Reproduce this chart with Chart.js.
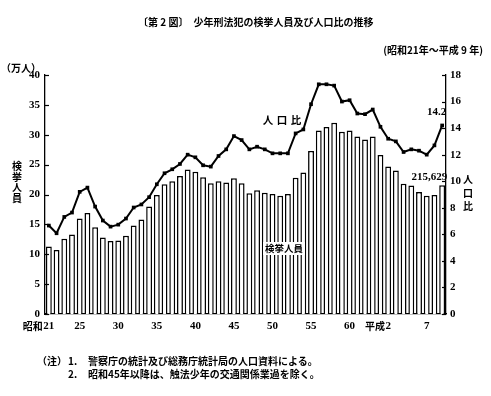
<!DOCTYPE html>
<html>
<head>
<meta charset="utf-8">
<script src="https://cdn.jsdelivr.net/npm/chart.js@4.4.0/dist/chart.umd.min.js"></script>
<style>
body { margin: 0; background: #fff; }
#wrap { position: relative; width: 491px; height: 396px; font-family: 'Noto Sans CJK JP', sans-serif; font-weight: bold; color: #000; }
#wrap div { position: absolute; white-space: nowrap; line-height: 1; }
.vert { text-align: center; }
</style>
</head>
<body>
<div id="wrap">
  <canvas id="myChart" width="491" height="396"></canvas>
  <div style="left:138px; top:17px; font-size:10px;">〔第 2 図〕　少年刑法犯の検挙人員及び人口比の推移</div>
  <div style="right:8px; top:45px; font-size:10px;">(昭和21年～平成 9 年)</div>
  <div style="left:1px; top:63px; font-size:10px;">（万人）</div>
  <div class="vert" style="left:11px; top:161px; width:12px; font-size:10px; line-height:10.5px; white-space:normal;">検<br>挙<br>人<br>員</div>
  <div class="vert" style="left:462px; top:172px; width:12px; font-size:10px; line-height:13.5px; white-space:normal;">人<br>口<br>比</div>
  <div style="left:37px; top:356px; font-size:10px;">（注）</div>
  <div style="left:68px; top:356px; font-size:10px;">1.</div>
  <div style="left:88px; top:356px; font-size:10px;">警察庁の統計及び総務庁統計局の人口資料による。</div>
  <div style="left:68px; top:369px; font-size:10px;">2.</div>
  <div style="left:88px; top:369px; font-size:10px;">昭和45年以降は、触法少年の交通関係業過を除く。</div>
</div>
<script>
// 昭和21年～平成9年
const categories = [
    '昭和21', '昭和22', '昭和23', '昭和24', '昭和25', '昭和26', '昭和27', '昭和28', '昭和29', '昭和30',
    '昭和31', '昭和32', '昭和33', '昭和34', '昭和35', '昭和36', '昭和37', '昭和38', '昭和39', '昭和40',
    '昭和41', '昭和42', '昭和43', '昭和44', '昭和45', '昭和46', '昭和47', '昭和48', '昭和49', '昭和50',
    '昭和51', '昭和52', '昭和53', '昭和54', '昭和55', '昭和56', '昭和57', '昭和58', '昭和59', '昭和60',
    '昭和61', '昭和62', '昭和63', '平成元', '平成2', '平成3', '平成4', '平成5', '平成6', '平成7',
    '平成8', '平成9'
];

// 検挙人員 (万人)
const arrests = [
    11.3, 10.7, 12.6, 13.3, 16.0, 16.9, 14.5, 12.8, 12.2, 12.3,
    13.1, 14.8, 15.8, 18.0, 19.9, 21.7, 22.2, 23.1, 24.2, 23.8,
    22.9, 21.9, 22.2, 22.0, 22.7, 21.9, 20.2, 20.7, 20.3, 20.1,
    19.8, 20.1, 22.8, 23.7, 27.3, 30.7, 31.3, 32.0, 30.5, 30.7,
    29.7, 29.2, 29.7, 26.6, 24.7, 24.0, 21.8, 21.5, 20.4, 19.8,
    19.9, 21.56
];

// 人口比
const ratio = [
    6.66, 6.08, 7.31, 7.64, 9.2, 9.52, 8.09, 7.04, 6.58, 6.73,
    7.19, 8.02, 8.25, 8.8, 9.77, 10.6, 10.9, 11.3, 12.0, 11.8,
    11.2, 11.1, 11.9, 12.4, 13.4, 13.1, 12.4, 12.6, 12.4, 12.1,
    12.1, 12.1, 13.6, 13.9, 15.8, 17.3, 17.3, 17.2, 16.0, 16.1,
    15.1, 15.05, 15.4, 14.1, 13.2, 13.0, 12.2, 12.4, 12.3, 12.0,
    12.7, 14.2
];

const tickCategories = ['昭和21', '昭和25', '昭和30', '昭和35', '昭和40', '昭和45', '昭和50', '昭和55', '昭和60', '平成2', '平成7'];
const tickNumbers = ['21', '25', '30', '35', '40', '45', '50', '55', '60', '2', '7'];
const tickPrefixes = ['昭和', '', '', '', '', '', '', '', '', '平成', ''];

const leftMax = 40, leftStep = 5;
const rightMax = 18, rightStep = 2;
const lastArrestsText = '215,629';
const lastRatioText = '14.2';

const jpFamily = "'Noto Sans CJK JP', sans-serif";
const numFont = { family: "'Liberation Serif', serif", size: 11, weight: 'bold' };

const decorations = {
    id: 'decorations',
    afterDraw(chart) {
        const ctx = chart.ctx;
        const a = chart.chartArea;
        const x = chart.scales.x, y = chart.scales.y, y1 = chart.scales.y1;
        ctx.save();
        ctx.strokeStyle = '#000';
        ctx.lineWidth = 1.2;
        // inward tick marks
        y.ticks.forEach(function (t) {
            const py = Math.round(y.getPixelForValue(t.value)) + 0.5;
            ctx.beginPath(); ctx.moveTo(a.left, py); ctx.lineTo(a.left + 4, py); ctx.stroke();
        });
        y1.ticks.forEach(function (t) {
            const py = Math.round(y1.getPixelForValue(t.value)) + 0.5;
            ctx.beginPath(); ctx.moveTo(a.right - 4, py); ctx.lineTo(a.right, py); ctx.stroke();
        });

        // era prefixes on the x labels
        ctx.fillStyle = '#000';
        ctx.textBaseline = 'middle';
        tickCategories.forEach(function (c, k) {
            if (!tickPrefixes[k]) return;
            const px = x.getPixelForValue(categories.indexOf(c));
            ctx.font = 'bold 11px ' + numFont.family;
            const w = ctx.measureText(tickNumbers[k]).width;
            ctx.font = 'bold 10px ' + jpFamily;
            ctx.textAlign = 'right';
            ctx.fillText(tickPrefixes[k], px - w / 2 - 0.5, 326);
        });

        // 人 口 比 label
        ctx.font = 'bold 10.5px ' + jpFamily;
        ctx.textAlign = 'center';
        ['人', '口', '比'].forEach(function (ch, i) {
            ctx.fillText(ch, 268 + i * 14, 120);
        });

        // 検挙人員 label on white box
        ctx.fillStyle = '#fff';
        ctx.fillRect(263, 242, 42, 13);
        ctx.fillStyle = '#000';
        ctx.font = 'bold 9.5px ' + jpFamily;
        ctx.fillText('検挙人員', 284, 248.5);

        // last values
        const li = categories.length - 1;
        const lx = x.getPixelForValue(li);
        ctx.font = 'bold 11px ' + numFont.family;
        ctx.textAlign = 'right';
        ctx.fillText(lastRatioText, lx + 4, y1.getPixelForValue(ratio[li]) - 13);
        ctx.fillText(lastArrestsText, lx + 5, y.getPixelForValue(arrests[li]) - 8);
        ctx.restore();
    }
};

var ctx = document.getElementById('myChart').getContext('2d');
var myChart = new Chart(ctx, {
    data: {
        labels: categories,
        datasets: [{
            type: 'line',
            label: '人口比',
            data: ratio,
            yAxisID: 'y1',
            borderColor: '#000',
            borderWidth: 2,
            pointStyle: 'rect',
            pointRadius: 2.6,
            pointBackgroundColor: '#000',
            pointBorderWidth: 0,
            tension: 0,
            order: 0
        }, {
            type: 'bar',
            label: '検挙人員',
            data: arrests,
            yAxisID: 'y',
            backgroundColor: '#fff',
            borderColor: '#000',
            borderWidth: 1.5,
            barPercentage: 0.76,
            categoryPercentage: 1,
            order: 1
        }]
    },
    options: {
        responsive: false,
        animation: false,
        layout: { padding: { top: 75, left: 0, right: 0, bottom: 0 } },
        plugins: {
            legend: { display: false },
            tooltip: { enabled: false }
        },
        scales: {
            x: {
                grid: { display: false, drawTicks: false },
                border: { display: true, color: '#000', width: 1.3 },
                ticks: {
                    autoSkip: false,
                    maxRotation: 0,
                    padding: 6,
                    color: '#000',
                    font: numFont,
                    callback: function (value, index) {
                        const k = tickCategories.indexOf(categories[index]);
                        return k < 0 ? '' : tickNumbers[k];
                    }
                },
                afterFit: function (scale) { scale.height = 82; }
            },
            y: {
                position: 'left',
                min: 0,
                max: leftMax,
                grid: { display: false, drawTicks: false },
                border: { display: true, color: '#000', width: 1.3 },
                ticks: { stepSize: leftStep, padding: 5, color: '#000', font: numFont },
                afterFit: function (scale) { scale.width = 45; }
            },
            y1: {
                position: 'right',
                min: 0,
                max: rightMax,
                grid: { display: false, drawTicks: false },
                border: { display: true, color: '#000', width: 1.3 },
                ticks: { stepSize: rightStep, padding: 4, color: '#000', font: numFont },
                afterFit: function (scale) { scale.width = 45; }
            }
        }
    },
    plugins: [decorations]
});
</script>
</body>
</html>
